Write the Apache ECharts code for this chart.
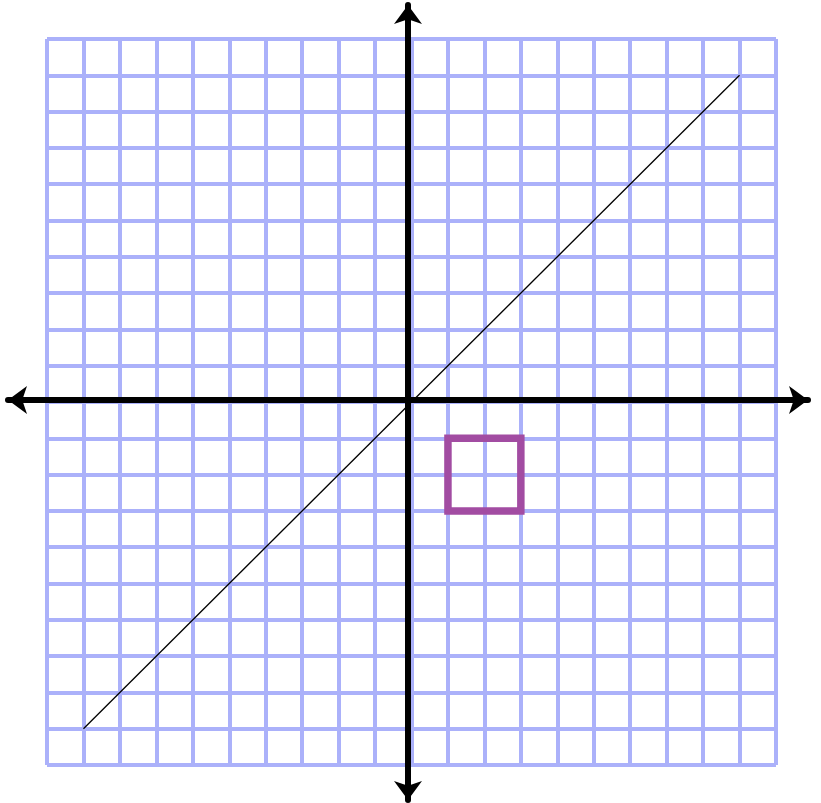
<!DOCTYPE html>
<html>
<head>
<meta charset="utf-8">
<script src="https://cdn.jsdelivr.net/npm/echarts@6/dist/echarts.min.js"></script>
<style>
  html, body { margin: 0; padding: 0; background: #fff; }
  #chart { width: 821px; height: 803px; }
</style>
</head>
<body>
<div id="chart"></div>
<script>
// grid range, in units
const gridMin = -10;
const gridMax = 10;

// diagonal line y = x
const lineX = [-9, 9];
const lineY = [-9, 9];

// purple square
const squareX = [1, 3, 3, 1, 1];
const squareY = [-1, -1, -3, -3, -1];

const chart = echarts.init(document.getElementById("chart"));

const hidden = { show: false };

// the black axes sit a few px off the paper's centre, so they get their own grid
const arrowAxis = {
  show: true, onZero: true,
  symbol: ["arrow", "arrow"], symbolSize: [21, 19],
  lineStyle: { color: "#000", width: 6 }
};

const option = {
  animation: false,
  grid: [
    // graph paper
    { left: 47, right: 45, top: 39, bottom: 38, outerBoundsMode: "none" },
    // black axes with arrows
    { left: 8, right: 13, top: 5, bottom: 3, outerBoundsMode: "none" }
  ],
  xAxis: [
    {
      type: "value", gridIndex: 0, min: gridMin, max: gridMax, interval: 1,
      axisLine: hidden, axisTick: hidden, axisLabel: hidden,
      splitLine: { show: true, lineStyle: { color: "#abb1fa", width: 4 } }
    },
    {
      type: "value", gridIndex: 1, min: -400, max: 400,
      axisTick: hidden, axisLabel: hidden, splitLine: hidden,
      axisLine: arrowAxis
    }
  ],
  yAxis: [
    {
      type: "value", gridIndex: 0, min: gridMin, max: gridMax, interval: 1,
      axisLine: hidden, axisTick: hidden, axisLabel: hidden,
      splitLine: { show: true, lineStyle: { color: "#abb1fa", width: 4 } }
    },
    {
      type: "value", gridIndex: 1, min: -400, max: 395,
      axisTick: hidden, axisLabel: hidden, splitLine: hidden,
      axisLine: arrowAxis
    }
  ],
  series: [
    {
      type: "line",
      xAxisIndex: 0, yAxisIndex: 0,
      data: lineX.map((x, i) => [x, lineY[i]]),
      showSymbol: false,
      lineStyle: { color: "#000", width: 1.3 },
      z: 5
    },
    {
      type: "line",
      xAxisIndex: 0, yAxisIndex: 0,
      data: squareX.map((x, i) => [x, squareY[i]]),
      showSymbol: false,
      lineStyle: { color: "#a24ca2", width: 7.5, join: "miter", cap: "square" },
      z: 6
    }
  ]
};

chart.setOption(option);
</script>
</body>
</html>
